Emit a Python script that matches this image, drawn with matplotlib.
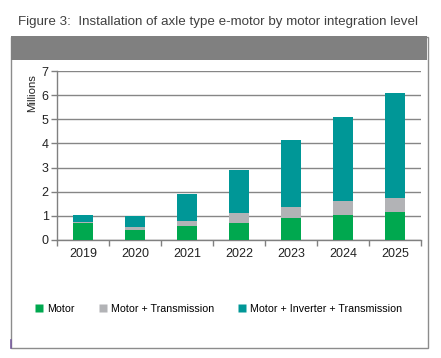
import matplotlib.pyplot as plt
import numpy as np
from matplotlib.patches import Rectangle
from matplotlib.lines import Line2D

plt.rcParams['font.family'] = ['Liberation Sans', 'DejaVu Sans']

years = ['2019', '2020', '2021', '2022', '2023', '2024', '2025']
motor = [0.72, 0.43, 0.58, 0.71, 0.93, 1.04, 1.17]
motor_trans = [0.04, 0.11, 0.22, 0.39, 0.45, 0.56, 0.59]
motor_inv_trans = [0.29, 0.46, 1.09, 1.80, 2.76, 3.51, 4.34]
series_names = ['Motor', 'Motor + Transmission', 'Motor + Inverter + Transmission']
colors = ['#00a84f', '#b2b3b6', '#009797']
yticks = [0, 1, 2, 3, 4, 5, 6, 7]

W, H = 441, 358
fig = plt.figure(figsize=(W / 100, H / 100), dpi=100)

# outer frame + grey header band
fig.patches.append(Rectangle((11 / W, 1 - 348 / H), 417 / W, 311 / H, transform=fig.transFigure,
                             facecolor='white', edgecolor='#8c8c8c', lw=1.0, zorder=-2))
fig.patches.append(Rectangle((11 / W, 1 - 59.5 / H), 416 / W, 23 / H, transform=fig.transFigure,
                             facecolor='#808080', edgecolor='none', zorder=-1))
fig.add_artist(Line2D([10.5 / W, 10.5 / W], [1 - 348 / H, 1 - 340 / H], color='#7a5fa0', lw=1.2))

fig.text(18 / W, 1 - 22 / H, 'Figure 3:  Installation of axle type e-motor by motor integration level',
         fontsize=9.6, color='#404040', va='center', ha='left')

ax = fig.add_axes([57 / W, 1 - 240 / H, 364 / W, 169 / H])
ax.set_zorder(2)
x = np.arange(len(years))
bottom = np.zeros(len(years))
for vals, name, c in zip([motor, motor_trans, motor_inv_trans], series_names, colors):
    ax.bar(x, vals, 0.39, bottom=bottom, color=c, label=name, zorder=3)
    bottom += np.array(vals)

ax.set_xlim(-0.5, len(years) - 0.5)
ax.set_ylim(0, 7)
ax.set_yticks(yticks)
ax.set_xticks(x)
ax.set_xticklabels(years)
ax.set_xticks(np.arange(-0.5, len(years)), minor=True)
ax.tick_params(axis='x', which='major', length=0, labelsize=9, pad=6, colors='#222222')
ax.tick_params(axis='x', which='minor', length=4, color='#808080', width=1)
ax.tick_params(axis='y', length=4, color='#808080', width=1, labelsize=9, labelcolor='#222222', pad=2)
ax.grid(axis='y', color='#868686', lw=1.0, zorder=1)
for s in ['top', 'right']:
    ax.spines[s].set_visible(False)
for s in ['left', 'bottom']:
    ax.spines[s].set_color('#808080')
    ax.spines[s].set_linewidth(1.0)

fig.text(32 / W, 1 - 93 / H, 'Millions', rotation=90, fontsize=8.2, va='center', ha='center', color='#222222')

handles = [Line2D([], [], marker='s', ls='none', markersize=6, markerfacecolor=c, markeredgecolor='none')
           for c in colors]
fig.legend(handles, series_names, loc='center left', bbox_to_anchor=(35 / W, 1 - 309 / H), ncol=3,
           frameon=False, fontsize=7.7, handlelength=0.8, handletextpad=0.35, columnspacing=2.2,
           borderpad=0, borderaxespad=0)

fig.savefig('out.png', dpi=100)
